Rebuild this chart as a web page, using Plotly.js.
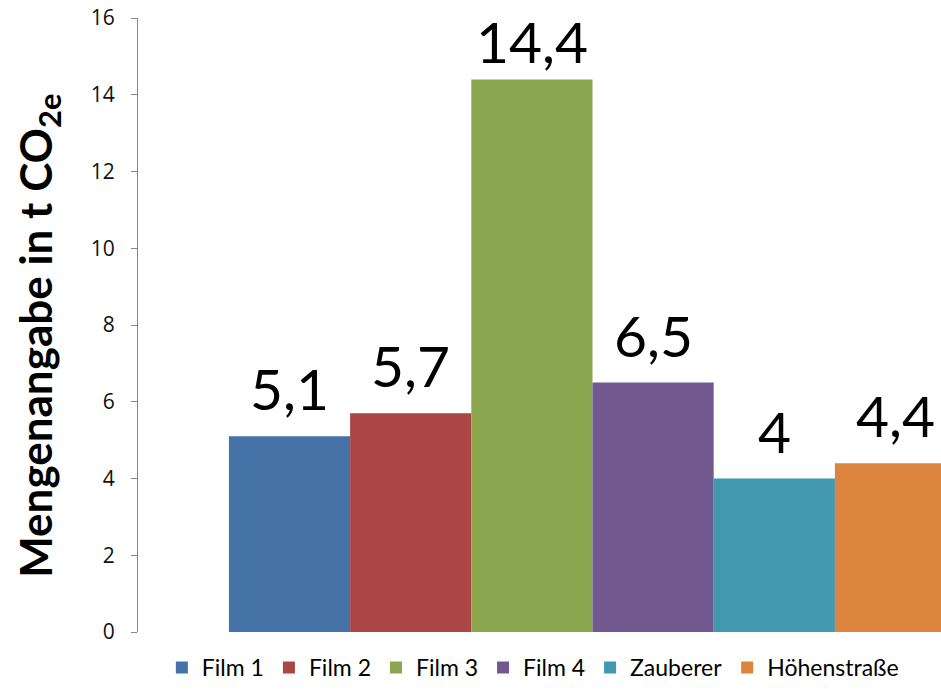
<!DOCTYPE html>
<html>
<head>
<meta charset="utf-8">
<script src="https://cdn.plot.ly/plotly-3.0.1.min.js"></script>
<style>html,body{margin:0;padding:0;background:#fff;}#chart{width:941px;height:689px;}</style>
</head>
<body>
<div id="chart"></div>
<script>
const seriesNames = ["Film 1", "Film 2", "Film 3", "Film 4", "Zauberer", "Höhenstraße"];
const seriesValues = [5.1, 5.7, 14.4, 6.5, 4.0, 4.4];
const seriesColors = ["#4572A7", "#AA4643", "#89A54E", "#71588F", "#4198AF", "#DB843D"];
const category = [0];
const yTicks = [0, 2, 4, 6, 8, 10, 12, 14, 16];

const W = 941, H = 689;
const M = {l: 138, r: 0, t: 18, b: 57};
const Y_MAX = 16;
const BARGAP = 0.2;
const labelFont = {family: "Lato, 'Open Sans', sans-serif", size: 57, color: "#000"};
const fmt = v => String(v).replace(".", ",");

const traces = seriesNames.map((name, i) => ({
  type: "bar",
  name: name,
  x: category,
  y: [seriesValues[i]],
  marker: {color: seriesColors[i], line: {width: 0}},
  hoverinfo: "none"
}));

// value labels above each bar; keep them inside the chart area near the top (like the original)
const nS = seriesNames.length;
const slot = (1 - BARGAP) / nS;
const plotH = H - M.t - M.b;
const GAP = 12, MIN_LABEL_BOTTOM = 77;
const annotations = seriesValues.map((v, i) => {
  const barTopPx = M.t + (1 - v / Y_MAX) * plotH;
  const shift = barTopPx - Math.max(barTopPx - GAP, MIN_LABEL_BOTTOM);
  return {
    xref: "x", yref: "y",
    x: category[0] - (1 - BARGAP) / 2 + slot * (i + 0.5),
    y: v,
    text: fmt(v),
    showarrow: false,
    xanchor: "center",
    yanchor: "bottom",
    yshift: shift,
    font: labelFont
  };
});

const layout = {
  width: W,
  height: H,
  margin: {l: M.l, r: M.r, t: M.t, b: M.b, pad: 0},
  paper_bgcolor: "#fff",
  plot_bgcolor: "#fff",
  barmode: "group",
  bargap: BARGAP,
  bargroupgap: 0,
  showlegend: true,
  annotations: annotations,
  legend: {
    orientation: "h",
    xref: "container",
    yref: "container",
    x: 0.172,
    xanchor: "left",
    y: 0,
    yanchor: "bottom",
    font: {family: "Lato, 'Open Sans', sans-serif", size: 23, color: "#000"},
    itemwidth: 30,
    traceorder: "normal"
  },
  xaxis: {
    type: "linear",
    range: [-0.5, 0.3834],
    showticklabels: false,
    ticks: "",
    showline: false,
    showgrid: false,
    zeroline: false,
    fixedrange: true
  },
  yaxis: {
    range: [0, Y_MAX],
    tickvals: yTicks,
    ticktext: yTicks.map(String),
    ticks: "outside",
    ticklen: 6,
    tickcolor: "#868686",
    ticklabelstandoff: 12,
    showline: true,
    linecolor: "#868686",
    linewidth: 1,
    showgrid: false,
    zeroline: false,
    tickfont: {family: "'Open Sans', sans-serif", size: 21, color: "#111"},
    title: {
      text: "<b>Mengenangabe in t CO<sub>2e</sub>&nbsp;&nbsp;</b>",
      font: {family: "Lato, 'Open Sans', sans-serif", size: 44, color: "#000"},
      standoff: 24
    }
  }
};

Plotly.newPlot("chart", traces, layout, {staticPlot: true, displayModeBar: false});
</script>
</body>
</html>
